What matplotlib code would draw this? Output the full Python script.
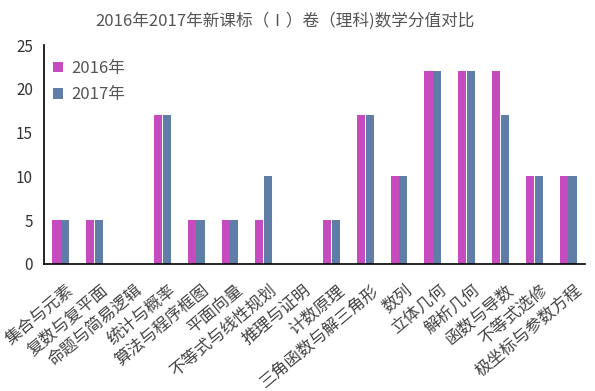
import matplotlib
matplotlib.use("Agg")
import matplotlib.pyplot as plt
import matplotlib.transforms as mtrans
import numpy as np

plt.rcParams['font.family'] = ['Noto Sans CJK SC', 'DejaVu Sans']

categories = ["集合与元素", "复数与复平面", "命题与简易逻辑", "统计与概率", "算法与程序框图",
              "平面向量", "不等式与线性规划", "推理与证明", "计数原理", "三角函数与解三角形",
              "数列", "立体几何", "解析几何", "函数与导数", "不等式选修", "极坐标与参数方程"]
v2016 = [5, 5, 0, 17, 5, 5, 5, 0, 5, 17, 10, 22, 22, 22, 10, 10]
v2017 = [5, 5, 0, 17, 5, 5, 10, 0, 5, 17, 10, 22, 22, 17, 10, 10]
yticks = [0, 5, 10, 15, 20, 25]

fig = plt.figure(figsize=(5.95, 3.91), dpi=100)
ax = fig.add_axes([44/595, 1-264/391, (585-44)/595, (264-45)/391])

x = np.arange(len(categories))
w = 0.24
ax.bar(x - w/2 - 0.01, v2016, width=w, color='#C64BBE', label='2016年')
ax.bar(x + w/2 + 0.01, v2017, width=w, color='#5F7DA6', label='2017年')

ax.set_xlim(-0.5, len(categories) - 0.5)
ax.set_ylim(0, 25)
ax.set_yticks(yticks)
ax.tick_params(axis='y', length=0, labelsize=11, colors='#333333', pad=8)
ax.tick_params(axis='x', length=0, pad=0)
ax.set_xticks(x)
ax.set_xticklabels(categories, rotation=40, ha='right', va='center', rotation_mode='anchor',
                   fontsize=12, color='#444444')
offset = mtrans.ScaledTranslation(11/100, -24/100, fig.dpi_scale_trans)
for lab in ax.get_xticklabels():
    lab.set_transform(lab.get_transform() + offset)

for s in ['top', 'right']:
    ax.spines[s].set_visible(False)
ax.spines['left'].set_color('black')
ax.spines['bottom'].set_color('black')
ax.spines['left'].set_linewidth(1.2)
ax.spines['bottom'].set_linewidth(1.2)

ax.legend(loc='upper left', bbox_to_anchor=(-0.012, 1.0), frameon=False, fontsize=12,
          handlelength=0.6, handleheight=0.6, handletextpad=0.5, labelspacing=0.55,
          labelcolor='#555555')

fig.text(285/595, 1-21/391, "2016年2017年新课标（Ⅰ）卷（理科)数学分值对比", ha='center', va='center',
         fontsize=12, color='#555555')

fig.savefig('out.png', dpi=100)
